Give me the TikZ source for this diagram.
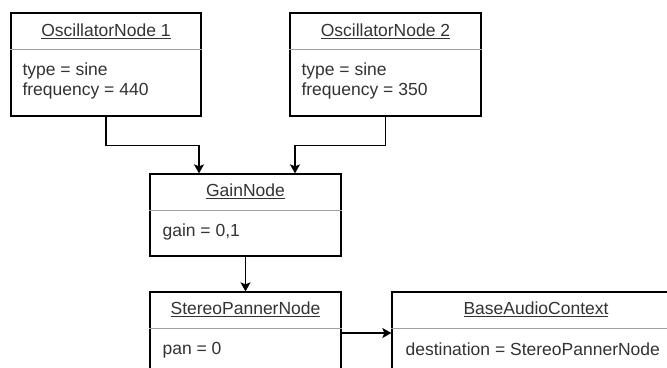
\documentclass[tikz,border=0pt]{standalone}
\usepackage{fontspec}
\setmainfont{Liberation Sans}
\usetikzlibrary{arrows.meta}

\definecolor{inktext}{HTML}{333333}
\definecolor{rulegray}{HTML}{A0A0A0}

\tikzset{
  objbox/.style={draw=black, line width=1.3pt, inner sep=0pt, fill=white},
  divider/.style={draw=rulegray, line width=1pt},
  titletext/.style={inner sep=0pt, text=inktext,
    font=\fontsize{17.5}{20}\selectfont},
  bodytext/.style={inner sep=0pt, anchor=west, align=left, text=inktext,
    font=\fontsize{17.5}{20}\selectfont},
  conn/.style={draw=black, line width=1.3pt,
    -{Stealth[length=9pt,width=10pt,inset=2pt]}}
}

\begin{document}
\begin{tikzpicture}[x=1pt,y=-1pt]
  \useasboundingbox (0,0) rectangle (667,367);
  \fill[white] (0,0) rectangle (667,367);
  \clip (0,0) rectangle (667,367);

  % object boxes
  \node[objbox, minimum width=190, minimum height=103] (osc1) at (106,64.5) {};
  \node[objbox, minimum width=191, minimum height=103] (osc2) at (385.5,64.5) {};
  \node[objbox, minimum width=191, minimum height=82] (gain) at (245.5,215) {};
  \node[objbox, minimum width=191, minimum height=82] (pan) at (245.5,333) {};
  \node[objbox, minimum width=288, minimum height=82] (ctx) at (536,333) {};

  % header dividers
  \foreach \b in {osc1,osc2,gain,pan,ctx}
    \draw[divider] ([yshift=-37pt]\b.north west) -- ([yshift=-37pt]\b.north east);

  % titles
  \node[titletext] (osc1t) at ([yshift=-19pt]osc1.north) {\underline{OscillatorNode 1}};
  \node[titletext] (osc2t) at ([yshift=-19pt]osc2.north) {\underline{OscillatorNode 2}};
  \node[titletext] (gaint) at ([yshift=-18pt]gain.north) {\underline{GainNode}};
  \node[titletext] (pant) at ([yshift=-18pt]pan.north) {\underline{StereoPannerNode}};
  \node[titletext] (ctxt) at ([yshift=-18pt]ctx.north) {\underline{BaseAudioContext}};

  % attributes
  \node[bodytext] (osc1b) at ([xshift=12pt,yshift=-69pt]osc1.north west) {type = sine\\frequency = 440};
  \node[bodytext] (osc2b) at ([xshift=12pt,yshift=-69pt]osc2.north west) {type = sine\\frequency = 350};
  \node[bodytext] (gainb) at ([xshift=13pt,yshift=-59pt]gain.north west) {gain = 0,1};
  \node[bodytext] (panb) at ([xshift=13pt,yshift=-59pt]pan.north west) {pan = 0};
  \node[bodytext] (ctxb) at ([xshift=14pt,yshift=-58pt]ctx.north west) {destination = StereoPannerNode};

  % connections
  \draw[conn] (osc1.south) -- ++(0,29) -| ([xshift=-46.5pt]gain.north);
  \draw[conn] (osc2.south) -- ++(0,29) -| ([xshift=49.5pt]gain.north);
  \draw[conn] (gain.south) -- (pan.north);
  \draw[conn] (pan.east) -- (ctx.west);
\end{tikzpicture}
\end{document}
